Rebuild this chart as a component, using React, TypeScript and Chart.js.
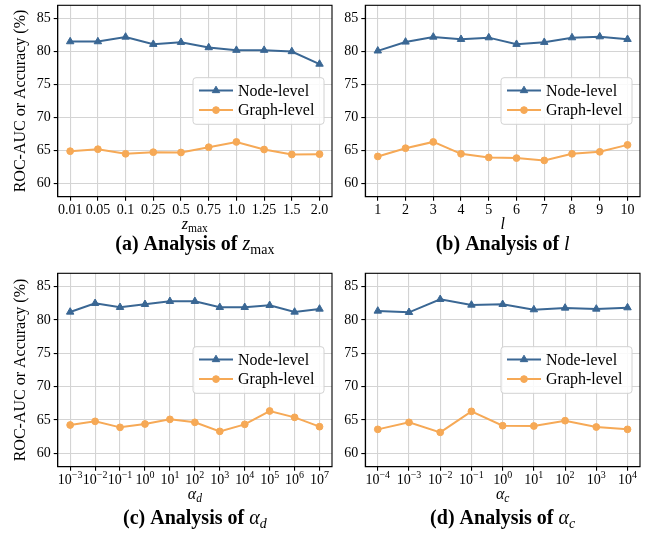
import React, { useEffect, useRef } from 'react';
import { Chart, registerables } from 'chart.js';

Chart.register(...registerables);

// ---------- data ----------
const zmaxLabels = ['0.01', '0.05', '0.1', '0.25', '0.5', '0.75', '1.0', '1.25', '1.5', '2.0'];
const zmaxNode = [81.5, 81.5, 82.2, 81.1, 81.4, 80.6, 80.2, 80.2, 80.0, 78.1];
const zmaxGraph = [64.9, 65.2, 64.5, 64.75, 64.7, 65.5, 66.3, 65.15, 64.4, 64.45];

const lLabels = ['1', '2', '3', '4', '5', '6', '7', '8', '9', '10'];
const lNode = [80.1, 81.45, 82.2, 81.85, 82.1, 81.1, 81.4, 82.1, 82.25, 81.85];
const lGraph = [64.1, 65.35, 66.3, 64.5, 63.95, 63.85, 63.5, 64.5, 64.8, 65.85];

const adExps = ['\u22123', '\u22122', '\u22121', '0', '1', '2', '3', '4', '5', '6', '7'];
const adNode = [81.2, 82.5, 81.9, 82.35, 82.8, 82.8, 81.9, 81.9, 82.2, 81.2, 81.65];
const adGraph = [64.25, 64.8, 63.9, 64.4, 65.1, 64.65, 63.3, 64.35, 66.35, 65.4, 64.0];

const acExps = ['\u22124', '\u22123', '\u22122', '\u22121', '0', '1', '2', '3', '4'];
const acNode = [81.35, 81.15, 83.1, 82.25, 82.35, 81.55, 81.8, 81.65, 81.85];
const acGraph = [63.6, 64.65, 63.15, 66.3, 64.15, 64.1, 64.9, 63.95, 63.6];

const seriesNames = ['Node-level', 'Graph-level'];
const yLabel = 'ROC-AUC or Accuracy (%)';
const yMin = 58;
const yMax = 87;
const yStep = 5;

// ---------- style ----------
const FONT = '"Liberation Serif", "Times New Roman", "DejaVu Serif", serif';
const BLUE = '#3a6794';
const ORANGE = '#f6a956';
const GRID = '#d4d4d4';
const W = 648;
const H = 534;

interface Seg { t: string; size: number; italic?: boolean; bold?: boolean; dy?: number }

interface Panel {
  area: [number, number, number, number];
  margin: number;
  ticks: Seg[][];
  node: number[];
  graph: number[];
  yTitle: boolean;
  yW: number;
  xTitle: Seg[];
  caption: Seg[];
  tickBase: number;
  titleBase: number;
  capBase: number;
}

const TICK = 14;
const plain = (arr: string[]): Seg[][] => arr.map((t) => [{ t, size: TICK }]);
const pow10 = (arr: string[]): Seg[][] =>
  arr.map((e) => [
    { t: '10', size: TICK },
    { t: e, size: 10, dy: -6 },
  ]);

const CAP = 20;
const XT = 16;

const panels: Panel[] = [
  {
    area: [57.7, 3.3, 332, 196.7],
    margin: 0.45,
    ticks: plain(zmaxLabels),
    node: zmaxNode,
    graph: zmaxGraph,
    yTitle: true,
    yW: 57.7,
    xTitle: [
      { t: 'z', size: XT, italic: true },
      { t: 'max', size: 11.5, dy: 3 },
    ],
    caption: [
      { t: '(a) Analysis of ', size: CAP, bold: true },
      { t: 'z', size: CAP, italic: true },
      { t: 'max', size: 14, dy: 4 },
    ],
    tickBase: 214,
    titleBase: 229,
    capBase: 250,
  },
  {
    area: [365.3, 3.3, 640, 196.7],
    margin: 0.45,
    ticks: plain(lLabels),
    node: lNode,
    graph: lGraph,
    yTitle: false,
    yW: 40,
    xTitle: [{ t: 'l', size: XT, italic: true }],
    caption: [
      { t: '(b) Analysis of ', size: CAP, bold: true },
      { t: 'l', size: CAP, italic: true },
    ],
    tickBase: 214,
    titleBase: 229,
    capBase: 250,
  },
  {
    area: [57.7, 273.3, 332, 466.7],
    margin: 0.5,
    ticks: pow10(adExps),
    node: adNode,
    graph: adGraph,
    yTitle: true,
    yW: 57.7,
    xTitle: [
      { t: '\u03b1', size: XT, italic: true },
      { t: 'd', size: 11.5, italic: true, dy: 3 },
    ],
    caption: [
      { t: '(c) Analysis of ', size: CAP, bold: true },
      { t: '\u03b1', size: CAP, italic: true },
      { t: 'd', size: 14, italic: true, dy: 4 },
    ],
    tickBase: 484,
    titleBase: 499,
    capBase: 524,
  },
  {
    area: [365.3, 273.3, 640, 466.7],
    margin: 0.4,
    ticks: pow10(acExps),
    node: acNode,
    graph: acGraph,
    yTitle: false,
    yW: 40,
    xTitle: [
      { t: '\u03b1', size: XT, italic: true },
      { t: 'c', size: 11.5, italic: true, dy: 3 },
    ],
    caption: [
      { t: '(d) Analysis of ', size: CAP, bold: true },
      { t: '\u03b1', size: CAP, italic: true },
      { t: 'c', size: 14, italic: true, dy: 4 },
    ],
    tickBase: 484,
    titleBase: 499,
    capBase: 524,
  },
];

function setFont(ctx: CanvasRenderingContext2D, s: Seg) {
  ctx.font = `${s.italic ? 'italic ' : ''}${s.bold ? 'bold ' : ''}${s.size}px ${FONT}`;
}

function drawRich(ctx: CanvasRenderingContext2D, segs: Seg[], cx: number, base: number) {
  let w = 0;
  segs.forEach((s) => {
    setFont(ctx, s);
    w += ctx.measureText(s.t).width;
  });
  let x = cx - w / 2;
  ctx.textAlign = 'left';
  ctx.textBaseline = 'alphabetic';
  ctx.fillStyle = '#000';
  segs.forEach((s) => {
    setFont(ctx, s);
    ctx.fillText(s.t, x, base + (s.dy || 0));
    x += ctx.measureText(s.t).width;
  });
}

function drawMarker(ctx: CanvasRenderingContext2D, style: string, x: number, y: number, r: number, color: string) {
  ctx.save();
  ctx.fillStyle = color;
  ctx.strokeStyle = color;
  ctx.lineWidth = 1;
  ctx.beginPath();
  if (style === 'triangle') {
    let rad = 0;
    ctx.moveTo(x + Math.sin(rad) * r, y - Math.cos(rad) * r);
    rad += (2 * Math.PI) / 3;
    ctx.lineTo(x + Math.sin(rad) * r, y - Math.cos(rad) * r);
    rad += (2 * Math.PI) / 3;
    ctx.lineTo(x + Math.sin(rad) * r, y - Math.cos(rad) * r);
    ctx.closePath();
  } else {
    ctx.arc(x, y, r, 0, Math.PI * 2);
  }
  ctx.fill();
  ctx.stroke();
  ctx.restore();
}

function makePlugin(p: Panel) {
  return {
    id: 'panelDecor',
    afterDraw(chart: any) {
      const ctx: CanvasRenderingContext2D = chart.ctx;
      const ca = chart.chartArea;
      const xs = chart.scales.x;
      ctx.save();
      // frame
      ctx.strokeStyle = '#000';
      ctx.lineWidth = 1.1;
      ctx.strokeRect(ca.left, ca.top, ca.right - ca.left, ca.bottom - ca.top);

      // legend (center right)
      const bw = 131;
      const bh = 46.6;
      const bx = ca.right - 8 - bw;
      const by = (ca.top + ca.bottom) / 2 - bh / 2;
      ctx.beginPath();
      if ((ctx as any).roundRect) (ctx as any).roundRect(bx, by, bw, bh, 3);
      else ctx.rect(bx, by, bw, bh);
      ctx.fillStyle = 'rgba(255,255,255,0.85)';
      ctx.fill();
      ctx.strokeStyle = '#d2d2d2';
      ctx.lineWidth = 1;
      ctx.stroke();
      const entries = [
        { name: seriesNames[0], color: BLUE, style: 'triangle', r: 4.3 },
        { name: seriesNames[1], color: ORANGE, style: 'circle', r: 3.4 },
      ];
      entries.forEach((e, i) => {
        const yy = by + 12.8 + i * 19.6;
        ctx.strokeStyle = e.color;
        ctx.lineWidth = 2;
        ctx.beginPath();
        ctx.moveTo(bx + 6, yy);
        ctx.lineTo(bx + 40, yy);
        ctx.stroke();
        drawMarker(ctx, e.style, bx + 23, yy, e.r, e.color);
        ctx.fillStyle = '#000';
        ctx.font = `16px ${FONT}`;
        ctx.textAlign = 'left';
        ctx.textBaseline = 'middle';
        ctx.fillText(e.name, bx + 45, yy + 1);
      });

      // x tick labels
      p.ticks.forEach((segs, i) => {
        drawRich(ctx, segs, xs.getPixelForValue(i), p.tickBase);
      });
      const cx = (ca.left + ca.right) / 2;
      drawRich(ctx, p.xTitle, cx, p.titleBase);
      drawRich(ctx, p.caption, cx, p.capBase);
      ctx.restore();
    },
  };
}

function PanelChart({ p }: { p: Panel }) {
  const ref = useRef<HTMLCanvasElement>(null);
  useEffect(() => {
    const [L, T, R, B] = p.area;
    const xH = 20;
    const n = p.node.length;
    const chart = new Chart(ref.current!, {
      type: 'line',
      data: {
        datasets: [
          {
            label: seriesNames[0],
            data: p.node.map((y, i) => ({ x: i, y })),
            borderColor: BLUE,
            backgroundColor: BLUE,
            borderWidth: 2,
            pointStyle: 'triangle',
            pointRadius: 4.3,
            pointBorderWidth: 1,
            tension: 0,
          },
          {
            label: seriesNames[1],
            data: p.graph.map((y, i) => ({ x: i, y })),
            borderColor: ORANGE,
            backgroundColor: ORANGE,
            borderWidth: 2,
            pointStyle: 'circle',
            pointRadius: 3.4,
            pointBorderWidth: 1,
            tension: 0,
          },
        ],
      },
      options: {
        responsive: false,
        animation: false,
        events: [],
        layout: {
          padding: { left: L - p.yW, top: T, right: W - R, bottom: H - B - xH },
        },
        plugins: { legend: { display: false }, tooltip: { enabled: false }, title: { display: false } },
        scales: {
          x: {
            type: 'linear',
            min: -p.margin,
            max: n - 1 + p.margin,
            afterBuildTicks: (s: any) => {
              s.ticks = p.node.map((_, i) => ({ value: i }));
            },
            afterFit: (s: any) => {
              s.height = xH;
              s.paddingLeft = 0;
              s.paddingRight = 0;
            },
            ticks: { callback: () => '', autoSkip: false, maxRotation: 0 },
            grid: { color: GRID, lineWidth: 1.1, tickLength: 4, tickColor: '#000', drawTicks: true },
            border: { color: '#000', width: 1.1 },
          },
          y: {
            type: 'linear',
            min: yMin,
            max: yMax,
            afterFit: (s: any) => {
              s.width = p.yW;
              s.paddingTop = 0;
              s.paddingBottom = 0;
            },
            ticks: {
              stepSize: yStep,
              includeBounds: false,
              color: '#000',
              font: { family: FONT, size: TICK },
              padding: 3,
            },
            grid: { color: GRID, lineWidth: 1.1, tickLength: 4, tickColor: '#000', drawTicks: true },
            border: { color: '#000', width: 1.1 },
            title: {
              display: p.yTitle,
              text: yLabel,
              color: '#000',
              font: { family: FONT, size: 16 },
              padding: { top: 11, bottom: 0 },
            },
          },
        },
      },
      plugins: [makePlugin(p)],
    } as any);
    return () => chart.destroy();
  }, [p]);
  return (
    <canvas
      ref={ref}
      width={W}
      height={H}
      style={{ position: 'absolute', left: 0, top: 0, width: W, height: H }}
    />
  );
}

export default function App() {
  return (
    <div style={{ position: 'absolute', left: 0, top: 0, width: W, height: H, background: '#fff' }}>
      {panels.map((p, i) => (
        <PanelChart key={i} p={p} />
      ))}
    </div>
  );
}
